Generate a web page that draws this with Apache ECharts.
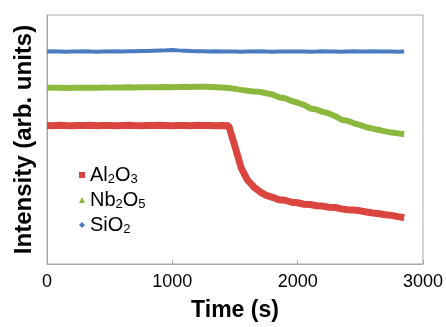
<!DOCTYPE html>
<html>
<head>
<meta charset="utf-8">
<script src="https://cdn.jsdelivr.net/npm/echarts@6/dist/echarts.min.js"></script>
<style>html,body{margin:0;padding:0;background:#fff}#c{width:446px;height:327px}</style>
</head>
<body>
<div id="c"></div>
<script>
// time axis (s), sampled every 50 s
const time = [0,50,100,150,200,250,300,350,400,450,500,550,600,650,700,750,800,850,900,950,
  1000,1050,1100,1150,1200,1250,1300,1350,1400,1450,1500,1550,1600,1650,1700,1750,1800,1850,1900,1950,
  2000,2050,2100,2150,2200,2250,2300,2350,2400,2450,2500,2550,2600,2650,2700,2750,2800,2850];
const seriesNames = ['Al2O3', 'Nb2O5', 'SiO2'];
const al2o3 = [140.2,140,140.3,140.1,140,140.2,140.1,140.3,140,140.2,
  140.1,140,140.2,140.3,140.1,140,140.2,140.1,140.3,140.2,
  140,140.1,140.2,140,140.3,140.1,140.2,140,140.1,140,
  119,97,85,78,73,69.5,67.5,65,64.5,62.5,
  62,60.5,60.2,59,58.6,57.4,57.2,55.8,55,54.6,
  53.8,52.6,51.6,50.8,49.8,49.2,48,46.8];
const nb2o5 = [178.5,178.3,178.4,178.2,178.3,178.4,178.3,178.5,178.4,178.6,
  178.5,178.7,178.6,178.8,178.7,178.9,178.8,179,178.9,179.1,
  179,179.2,179.3,179.2,179.4,179.3,179.2,179,178.6,178.2,
  177.2,176.2,175.4,174.6,174.2,172.8,171.6,168.8,167.8,165,
  163.2,161,157.4,156.4,154,152.4,149.6,146,144.8,142.4,
  140.6,138.4,137,135.6,134.2,133,132.2,131.4];
const sio2 = [215,215.2,215,214.8,215.1,215,215.2,215,214.9,215.1,
  215,215.2,215.1,215.4,215.3,215.6,215.5,215.8,216.1,216.3,
  216.6,216.2,215.9,215.6,215.4,215.3,215.1,215.2,215,215.1,
  215,214.9,215.1,215,215.2,215,214.9,215,215.1,215,
  215.1,215,214.9,215,215.2,215.1,215,214.9,215.1,215.2,
  215,215.1,215.3,215,215.1,215,214.9,215.1];
const xTicks = [0, 1000, 2000, 3000];

const zip = a => time.map((t, i) => [t, a[i]]);
const colors = ['#DA4540', '#8DB83E', '#4B7BBF'];
const legendRich = {
  n: {fontSize: 20, fontFamily: 'Liberation Sans', color: '#000', lineHeight: 22},
  s: {fontSize: 13, fontFamily: 'Liberation Sans', color: '#000', lineHeight: 8, verticalAlign: 'bottom'}
};
const legendLabel = {
  'Al2O3': '{n|Al}{s|2}{n|O}{s|3}',
  'Nb2O5': '{n|Nb}{s|2}{n|O}{s|5}',
  'SiO2': '{n|SiO}{s|2}'
};
const chart = echarts.init(document.getElementById('c'), null, {renderer: 'canvas'});
chart.setOption({
  animation: false,
  grid: {left: 47, right: 19, top: 15, bottom: 60, show: true, borderColor: '#A8A8A8', borderWidth: 1, backgroundColor: '#fff'},
  legend: {
    orient: 'vertical', left: 74, top: 160, itemGap: 4, itemWidth: 6, itemHeight: 6,
    data: [
      {name: 'Al2O3', icon: 'rect'},
      {name: 'Nb2O5', icon: 'triangle'},
      {name: 'SiO2', icon: 'diamond'}
    ],
    formatter: n => legendLabel[n],
    textStyle: {rich: legendRich}
  },
  xAxis: {
    type: 'value', min: 0, max: 3000, interval: 1000,
    axisLine: {lineStyle: {color: '#A8A8A8'}},
    axisTick: {inside: true, length: 4, lineStyle: {color: '#A8A8A8'}},
    axisLabel: {color: '#000', fontSize: 18, fontFamily: 'Liberation Sans', margin: 9,
      formatter: v => xTicks.includes(v) ? String(v) : ''},
    splitLine: {show: false},
    name: 'Time (s)', nameLocation: 'middle', nameGap: 35,
    nameTextStyle: {color: '#000', fontSize: 23, fontWeight: 'bold', fontFamily: 'Liberation Sans'}
  },
  yAxis: {
    type: 'value', min: 0, max: 252,
    axisLine: {show: true, lineStyle: {color: '#A8A8A8'}},
    axisTick: {show: false}, axisLabel: {show: false}, splitLine: {show: false},
    name: 'Intensity (arb. units)', nameLocation: 'middle', nameGap: 11,
    nameTextStyle: {color: '#000', fontSize: 24, fontWeight: 'bold', fontFamily: 'Liberation Sans'}
  },
  series: [
    {name: 'Al2O3', type: 'line', data: zip(al2o3), showSymbol: false, symbol: 'rect', color: colors[0], lineStyle: {width: 7}, z: 3},
    {name: 'Nb2O5', type: 'line', data: zip(nb2o5), showSymbol: false, symbol: 'triangle', color: colors[1], lineStyle: {width: 6}, z: 2},
    {name: 'SiO2', type: 'line', data: zip(sio2), showSymbol: false, symbol: 'diamond', color: colors[2], lineStyle: {width: 4}, z: 1}
  ]
});
</script>
</body>
</html>
